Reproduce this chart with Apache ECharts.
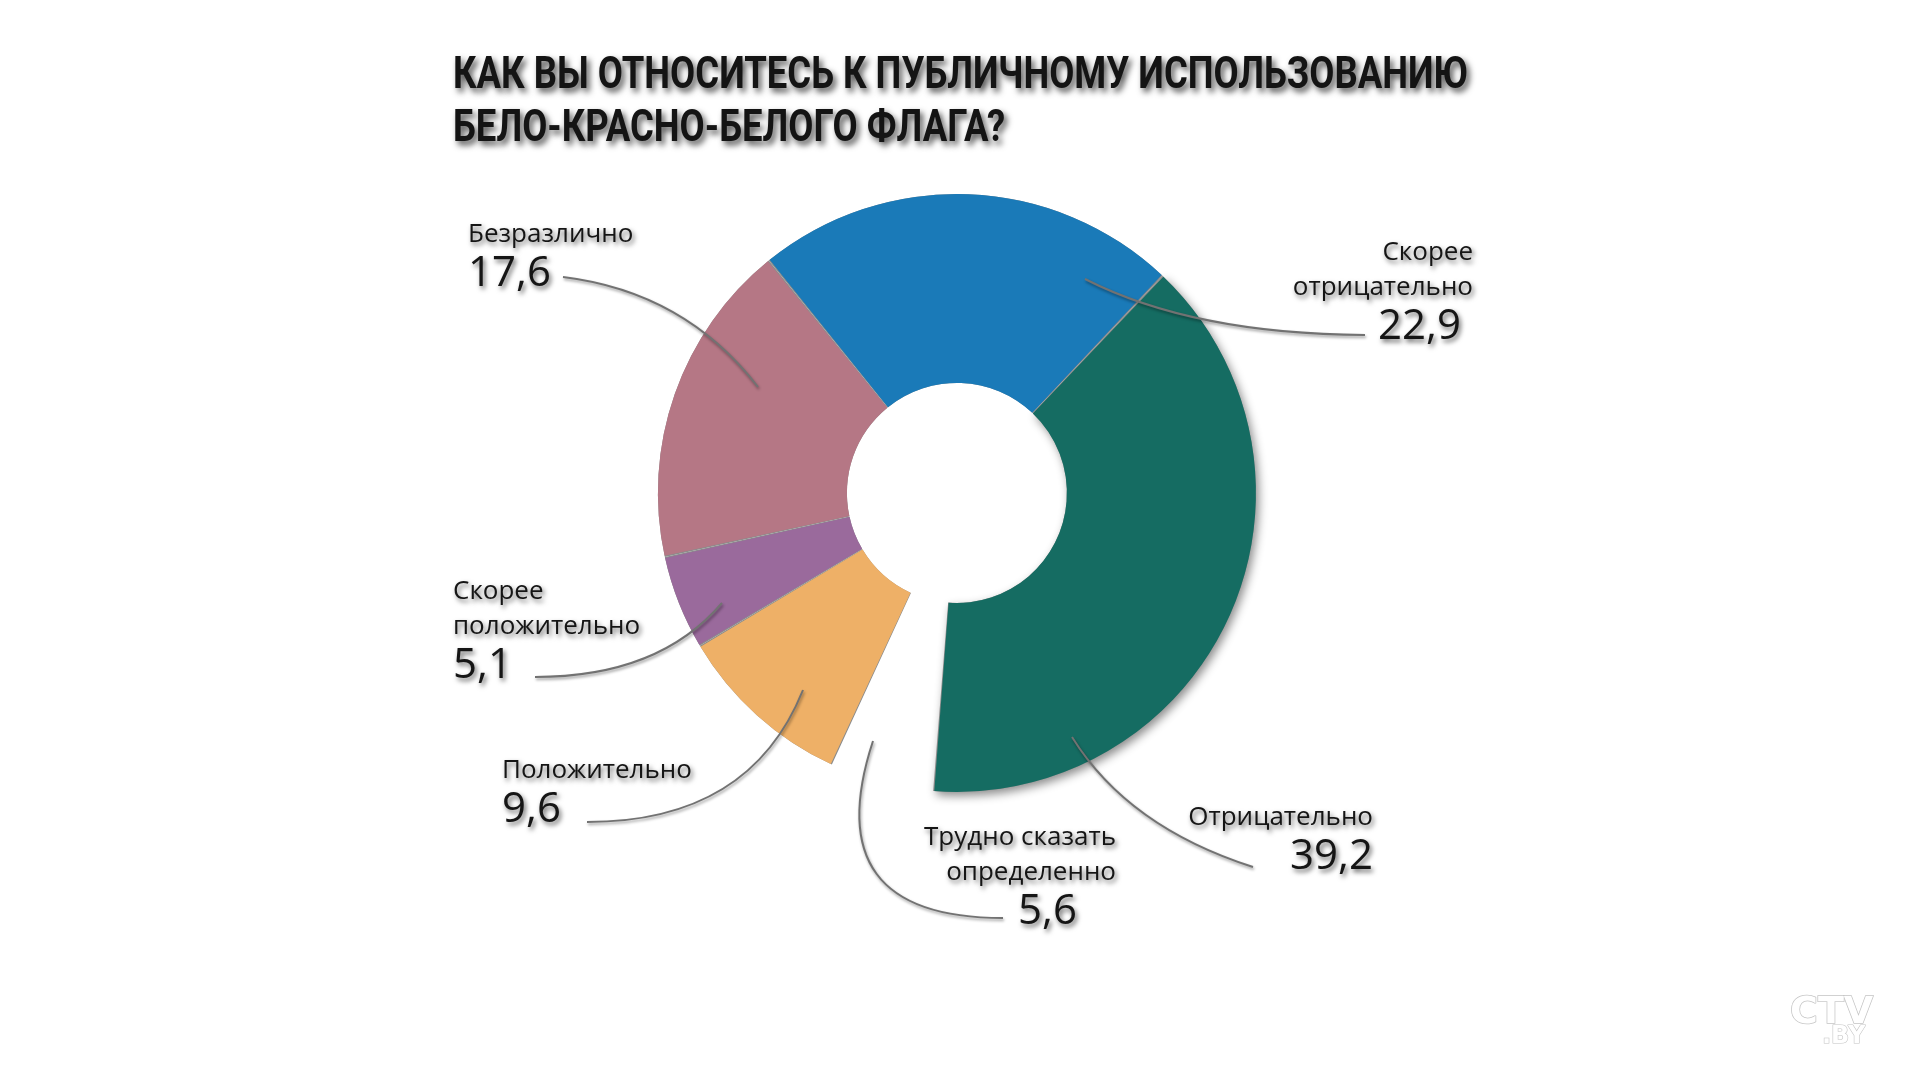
<!DOCTYPE html>
<html>
<head>
<meta charset="utf-8">
<script src="https://cdn.jsdelivr.net/npm/echarts@6/dist/echarts.min.js"></script>
<style>
html,body{margin:0;padding:0;background:#fff;}
#chart{width:1910px;height:1074px;}
</style>
</head>
<body>
<div id="chart"></div>
<script>
// ---- data ----
const titleLines = ['КАК ВЫ ОТНОСИТЕСЬ К ПУБЛИЧНОМУ ИСПОЛЬЗОВАНИЮ', 'БЕЛО-КРАСНО-БЕЛОГО ФЛАГА?'];
const categories = ['Скорее\nотрицательно', 'Отрицательно', 'Трудно сказать\nопределенно', 'Положительно', 'Скорее\nположительно', 'Безразлично'];
const values = [22.9, 39.2, 5.6, 9.6, 5.1, 17.6];
const hiddenSlice = [false, false, true, false, false, false];

// ---- styles / layout ----
const sliceColors = ['#1a7ab8', '#156c62', 'rgba(0,0,0,0)', '#eeb067', '#9a6a9c', '#b57785'];
// label block anchors and leader curves (start near label, tangent corner, end inside slice)
const labelPos = [
  {x: 1473, y: 235, align: 'right', valuePad: 12, line: [[1365, 335], [1193, 334], [1085, 279]]},
  {x: 1373, y: 800, align: 'right', line: [[1253, 867], [1128, 827], [1072, 737]]},
  {x: 1116, y: 820, align: 'right', valuePad: 39, line: [[1003, 918], [815, 918], [873, 741]]},
  {x: 502, y: 753, align: 'left', line: [[587, 822], [750, 822], [803, 690]]},
  {x: 453, y: 574, align: 'left', line: [[535, 677], [659, 677], [722, 603]]},
  {x: 468, y: 217, align: 'left', line: [[563, 277], [685, 292], [758, 387]]}
];

const fmt = v => String(v).replace('.', ',');
const shadowText = {textShadowColor: 'rgba(0,0,0,0.6)', textShadowBlur: 5, textShadowOffsetX: 2, textShadowOffsetY: 3};

// title: condensed by horizontal scaling to reference width
const titleFont = 'bold 45px Roboto';
const titleTargetWidth = 1015;
const mctx = document.createElement('canvas').getContext('2d');
mctx.font = titleFont;
const titleScale = titleTargetWidth / mctx.measureText(titleLines[0]).width;

const chart = echarts.init(document.getElementById('chart'), null, {renderer: 'canvas'});

const topData = categories.map((c, i) => ({
  name: c,
  value: values[i],
  itemStyle: {color: sliceColors[i]},
  label: {
    rich: {
      v: {fontSize: 42, lineHeight: 44, color: '#151515', fontFamily: 'Open Sans', padding: [0, labelPos[i].valuePad || 0, 0, 0], ...shadowText}
    }
  }
}));
const baseData = categories.map((c, i) => ({
  name: c,
  value: values[i],
  itemStyle: hiddenSlice[i] ? {color: 'rgba(0,0,0,0)'} :
    (i === 1 ? {color: '#8c8c8c', shadowColor: 'rgba(0,0,0,0.45)', shadowBlur: 10, shadowOffsetX: 3, shadowOffsetY: 4}
             : {color: '#8c8c8c'})
}));

const leaderCurves = labelPos.map(lp => ({
  type: 'bezierCurve',
  silent: true,
  z: 10,
  shape: {
    x1: lp.line[0][0], y1: lp.line[0][1],
    cpx1: lp.line[1][0], cpy1: lp.line[1][1],
    x2: lp.line[2][0], y2: lp.line[2][1]
  },
  style: {stroke: '#727272', lineWidth: 2, fill: null, shadowColor: 'rgba(0,0,0,0.4)', shadowBlur: 3, shadowOffsetX: 1, shadowOffsetY: 2}
}));

const option = {
  backgroundColor: '#ffffff',
  animation: false,
  graphic: [
    {
      type: 'text', x: 453, y: 50, scaleX: titleScale, scaleY: 1, silent: true,
      style: {
        text: titleLines.join('\n'), font: titleFont, lineHeight: 53, fill: '#141414',
        textVerticalAlign: 'top', verticalAlign: 'top',
        shadowColor: 'rgba(0,0,0,0.7)', shadowBlur: 6, shadowOffsetX: 3, shadowOffsetY: 4,
        textShadowColor: 'rgba(0,0,0,0.7)', textShadowBlur: 6, textShadowOffsetX: 3, textShadowOffsetY: 4
      }
    },
    {type: 'text', right: 36, top: 993, style: {text: 'CTV', font: 'bold 38px "DejaVu Sans"', fill: '#ffffff', stroke: '#c4c4c4', lineWidth: 1.5, shadowColor: 'rgba(0,0,0,0.25)', shadowBlur: 3}},
    {type: 'text', right: 44, top: 1024, style: {text: '.BY', font: 'bold 24px "DejaVu Sans"', fill: '#ffffff', stroke: '#c4c4c4', lineWidth: 1.2, shadowColor: 'rgba(0,0,0,0.25)', shadowBlur: 3}}
  ].concat(leaderCurves),
  series: [
    {
      type: 'pie',
      center: ['50.1%', '45.9%'],
      radius: [110, 299],
      startAngle: 129,
      clockwise: true,
      silent: true,
      label: {show: false},
      labelLine: {show: false},
      data: baseData
    },
    {
      type: 'pie',
      center: ['50.1%', '45.9%'],
      radius: [110, 299],
      startAngle: 129,
      clockwise: true,
      padAngle: 0.45,
      avoidLabelOverlap: false,
      silent: true,
      label: {
        show: true,
        position: 'outside',
        formatter: p => p.name.split('\n').map(s => '{n|' + s + '}').join('\n') + '\n{v|' + fmt(p.value) + '}',
        rich: {
          n: {fontSize: 26, lineHeight: 35, color: '#151515', fontFamily: 'Open Sans', ...shadowText}
        }
      },
      labelLine: {show: false},
      labelLayout: function (params) {
        const lp = labelPos[params.dataIndex];
        return {x: lp.x, y: lp.y, align: lp.align, verticalAlign: 'top'};
      },
      data: topData
    }
  ]
};
chart.setOption(option);
</script>
</body>
</html>
